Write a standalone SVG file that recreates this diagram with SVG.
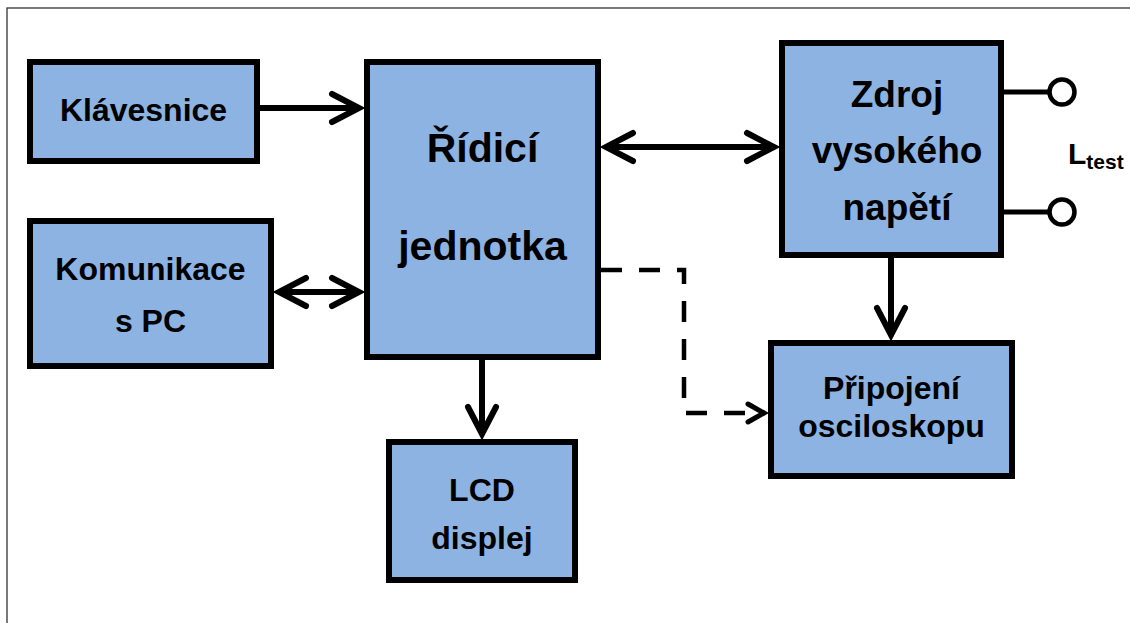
<svg xmlns="http://www.w3.org/2000/svg" width="1130" height="623" viewBox="0 0 1130 623">
  <defs>
    <style>
      .box { fill: #8DB3E2; stroke: #000; stroke-width: 6; }
      .lbl { font-family: "Liberation Sans", Arial, sans-serif; font-weight: bold; fill: #000; text-anchor: middle; }
      .s32 { font-size: 32px; }
      .s37 { font-size: 37px; }
      .s41 { font-size: 41px; }
      .wire { fill: none; stroke: #000; stroke-width: 6; }
      .dash { fill: none; stroke: #000; stroke-width: 4.5; stroke-dasharray: 21 17; }
      .term { fill: none; stroke: #000; stroke-width: 5; }
      .pin { fill: #fff; stroke: #000; stroke-width: 4.5; }
    </style>
    <!-- open chevron heads, drawn at 1:1 in user units -->
    <marker id="head" markerUnits="userSpaceOnUse" viewBox="-40 -20 50 40" markerWidth="50" markerHeight="40" refX="0" refY="0" orient="auto-start-reverse">
      <path d="M-28,-14 L-1,0 L-28,14" fill="none" stroke="#000" stroke-width="6" stroke-linecap="round"/>
    </marker>
    <marker id="head-sm" markerUnits="userSpaceOnUse" viewBox="-30 -15 40 30" markerWidth="40" markerHeight="30" refX="0" refY="0" orient="auto">
      <path d="M-17,-9 L-1,0 L-17,9" fill="none" stroke="#000" stroke-width="5" stroke-linecap="round"/>
    </marker>
  </defs>

  <rect width="1130" height="623" fill="#fff"/>
  <!-- outer frame -->
  <rect x="7" y="8" width="1140" height="640" fill="none" stroke="#333" stroke-width="1.3"/>

  <g id="connectors">
    <path class="wire" d="M260,108 H360" marker-end="url(#head)"/>
    <path class="wire" d="M278,292 H360" marker-start="url(#head)" marker-end="url(#head)"/>
    <path class="wire" d="M605,147 H775" marker-start="url(#head)" marker-end="url(#head)"/>
    <path class="wire" d="M482,360 V435" marker-end="url(#head)"/>
    <path class="wire" d="M891,258 V336" marker-end="url(#head)"/>
    <path class="dash" d="M601,270 H684 V413 H765" marker-end="url(#head-sm)"/>
    <path class="term" d="M1004,92 H1050"/>
    <path class="term" d="M1004,212 H1050"/>
    <circle class="pin" cx="1062" cy="92" r="12.5"/>
    <circle class="pin" cx="1062" cy="212" r="12.5"/>
  </g>

  <g id="klavesnice">
    <rect class="box" x="30" y="62" width="227" height="99"/>
    <text class="lbl s32" x="143.5" y="121">Klávesnice</text>
  </g>

  <g id="ridici-jednotka">
    <rect class="box" x="367" y="62" width="231" height="295"/>
    <text class="lbl s41" x="482.5" y="162">Řídicí</text>
    <text class="lbl s41" x="482.5" y="260">jednotka</text>
  </g>

  <g id="komunikace">
    <rect class="box" x="30" y="221" width="241" height="145"/>
    <text class="lbl s32" x="150.5" y="280">Komunikace</text>
    <text class="lbl s32" x="150.5" y="332">s PC</text>
  </g>

  <g id="lcd">
    <rect class="box" x="389" y="442" width="186" height="138"/>
    <text class="lbl s32" x="482" y="501">LCD</text>
    <text class="lbl s32" x="482" y="549">displej</text>
  </g>

  <g id="zdroj">
    <rect class="box" x="782" y="43" width="219" height="212"/>
    <text class="lbl s37" x="897" y="107">Zdroj</text>
    <text class="lbl s37" x="897" y="163">vysokého</text>
    <text class="lbl s37" x="897" y="220">napětí</text>
  </g>

  <g id="pripojeni">
    <rect class="box" x="771" y="343" width="241" height="133"/>
    <text class="lbl s32" x="891.5" y="399">Připojení</text>
    <text class="lbl s32" x="891.5" y="437">osciloskopu</text>
  </g>

  <g id="ltest">
    <text class="lbl" x="1068" y="164" style="font-size:30px;text-anchor:start">L<tspan dy="5" style="font-size:21px">test</tspan></text>
  </g>
</svg>
